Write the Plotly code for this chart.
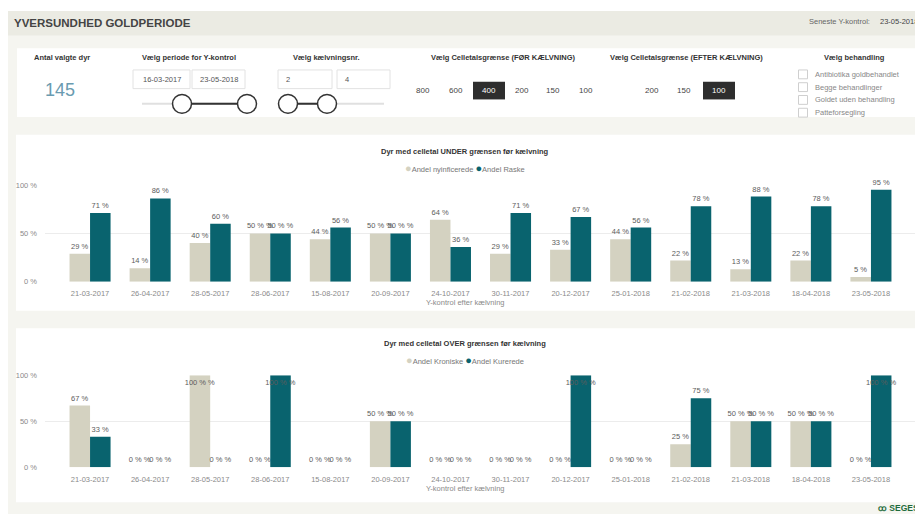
import plotly.graph_objects as go

# ---------------- data ----------------
categories = ["21-03-2017", "26-04-2017", "28-05-2017", "28-06-2017", "15-08-2017",
              "20-09-2017", "24-10-2017", "30-11-2017", "20-12-2017", "25-01-2018",
              "21-02-2018", "21-03-2018", "18-04-2018", "23-05-2018"]

under_nyinficerede = [29, 14, 40, 50, 44, 50, 64, 29, 33, 44, 22, 13, 22, 5]
under_raske = [71, 86, 60, 50, 56, 50, 36, 71, 67, 56, 78, 88, 78, 95]

over_kroniske = [67, 0, 100, 0, 0, 50, 0, 0, 0, 0, 25, 50, 50, 0]
over_kurerede = [33, 0, 0, 100, 0, 50, 0, 0, 100, 0, 75, 50, 50, 100]

y_ticks = [0, 50, 100]

period_dates = ["16-03-2017", "23-05-2018"]
kaelvning_nr = ["2", "4"]
foer_options = ["800", "600", "400", "200", "150", "100"]
efter_options = ["200", "150", "100"]
behandlinger = ["Antibiotika goldbehandlet", "Begge behandlinger",
                "Goldet uden behandling", "Patteforsegling"]

# ---------------- styling ----------------
PAGE_W, PAGE_H = 923, 519
OFF = 8                      # default page body margin
W, H = PAGE_W - OFF, PAGE_H - OFF
FONT = "Liberation Sans, Arial, sans-serif"
BEIGE = "#d4d2c1"
TEAL = "#09636e"
LABEL = "#5c5c5c"
TICK = "#8a8a8a"
HEADER_BG = "#ebebe3"
BAND_BG = "#f5f5f0"


def X(p):
    return (p - OFF) / W


def Y(p):
    return 1 - (p - OFF) / H


def positions(vals):
    return ["inside" if v >= 100 else "outside" for v in vals]


def bar(vals, color, xa, ya, name):
    return go.Bar(
        x=categories, y=vals, name=name, marker_color=color,
        marker_line_width=0,
        texttemplate="%{y} %", textposition=positions(vals),
        insidetextanchor="end", textangle=0, constraintext="none",
        textfont=dict(family=FONT, size=7.5, color=LABEL),
        insidetextfont=dict(family=FONT, size=7.5, color=LABEL),
        outsidetextfont=dict(family=FONT, size=7.5, color=LABEL),
        cliponaxis=False, xaxis=xa, yaxis=ya, showlegend=False, hoverinfo="skip",
    )


fig = go.Figure()
fig.add_trace(bar(under_nyinficerede, BEIGE, "x", "y", "Andel nyinficerede"))
fig.add_trace(bar(under_raske, TEAL, "x", "y", "Andel Raske"))
fig.add_trace(bar(over_kroniske, BEIGE, "x2", "y2", "Andel Kroniske"))
fig.add_trace(bar(over_kurerede, TEAL, "x2", "y2", "Andel Kurerede"))

xdom = [X(45), X(916)]
xrange = [-0.75, len(categories) - 0.25]
common_x = dict(type="category", range=xrange, showgrid=False, zeroline=False,
                showline=False, ticks="", tickangle=0, ticklabelstandoff=6,
                tickfont=dict(family=FONT, size=7.5, color=TICK))
common_y = dict(range=[0, 100], tickvals=y_ticks, ticktext=[f"{v} %" for v in y_ticks],
                showgrid=True, gridcolor="#ececec", gridwidth=1, zeroline=False,
                showline=False, ticks="", ticklabelstandoff=7,
                tickfont=dict(family=FONT, size=7.5, color=TICK))

shapes = []
annotations = []


def rect(x0, y0, x1, y1, fill, line=None, lw=0):
    shapes.append(dict(type="rect", xref="paper", yref="paper", layer="below",
                       x0=X(x0), x1=X(x1), y0=Y(y1), y1=Y(y0), fillcolor=fill,
                       line=dict(color=line or fill, width=lw)))


def text(x, y, s, size=8, color="#333", xanchor="center", bold=False):
    annotations.append(dict(xref="paper", yref="paper", x=X(x), y=Y(y),
                            text=f"<b>{s}</b>" if bold else s, showarrow=False,
                            xanchor=xanchor, yanchor="middle",
                            font=dict(family=FONT, size=size, color=color)))


# background areas
rect(7, 7, PAGE_W, PAGE_H, BAND_BG)
rect(7, 7, PAGE_W, 32, HEADER_BG)
rect(17, 45, PAGE_W, 115, "white")
rect(16, 133, PAGE_W, 312, "white")
rect(16, 330, PAGE_W, 507, "white")

# header
text(12, 19, "YVERSUNDHED GOLDPERIODE", size=11.5, color="#444", xanchor="left", bold=True)
text(807, 18, "Seneste Y-kontrol:", size=7.5, color="#666", xanchor="left")
text(920, 18, "23-05-2018", size=7.5, color="#444", xanchor="right")

# control panel
text(62, 54, "Antal valgte dyr", size=7.5, color="#333", bold=True)
text(60, 87, "145", size=18, color="#6a9bb0")

text(189, 54, "Vælg periode for Y-kontrol", size=7.5, color="#333", bold=True)
for (x0, x1), s in zip([(133, 190), (192, 245)], period_dates):
    rect(x0, 67, x1, 86, "white", "#e2e2e2", 1)
    text((x0 + x1) / 2, 76.5, s, size=7.5, color="#555")

text(326, 54, "Vælg kælvningsnr.", size=7.5, color="#333", bold=True)
for (x0, x1), s in zip([(278, 332), (337, 390)], kaelvning_nr):
    rect(x0, 67, x1, 86, "white", "#e2e2e2", 1)
    text(x0 + 6, 76.5, s, size=7.5, color="#555", xanchor="left")


def line(x0, y0, x1, y1, color, width):
    shapes.append(dict(type="line", xref="paper", yref="paper",
                       x0=X(x0), x1=X(x1), y0=Y(y0), y1=Y(y1),
                       line=dict(color=color, width=width)))


def circle(cx, cy, r):
    shapes.append(dict(type="circle", xref="paper", yref="paper",
                       x0=X(cx - r), x1=X(cx + r), y0=Y(cy + r), y1=Y(cy - r),
                       fillcolor="white", line=dict(color="#333", width=1.5)))


# date slider
line(142, 101.5, 253, 101.5, "#e0e0e0", 2)
line(182, 101.5, 247, 101.5, "#333", 2)
circle(182, 101.5, 9.5)
circle(247, 101.5, 9.5)
# kælvning slider
line(288, 101.5, 384, 101.5, "#e0e0e0", 2)
line(288, 101.5, 327, 101.5, "#333", 2)
circle(288, 101.5, 9.5)
circle(327, 101.5, 9.5)

text(503, 54, "Vælg Celletalsgrænse (FØR KÆLVNING)", size=7.5, color="#333", bold=True)
foer_x = [423, 456, 489, 522, 553, 586]
for xc, s in zip(foer_x, foer_options):
    if s == "400":
        rect(xc - 16, 79, xc + 16, 97, "#2e2e2e")
        text(xc, 88, s, size=8, color="white")
    else:
        text(xc, 88, s, size=8, color="#444")

text(686, 54, "Vælg Celletalsgrænse (EFTER KÆLVNING)", size=7.5, color="#333", bold=True)
efter_x = [652, 684, 719]
for xc, s in zip(efter_x, efter_options):
    if s == "100":
        rect(xc - 16, 79, xc + 16, 97, "#2e2e2e")
        text(xc, 88, s, size=8, color="white")
    else:
        text(xc, 88, s, size=8, color="#444")

text(854, 54, "Vælg behandling", size=7.5, color="#333", bold=True)
for yc, s in zip([71.5, 84.5, 97.5, 110.5], behandlinger):
    rect(798.5, yc - 4.5, 807.5, yc + 4.5, "white", "#cfcfcf", 1)
    text(813, yc, s, size=7.5, color="#888", xanchor="left")

# chart titles, legends, axis titles
DOT = '<span style="color:{};font-size:11px">●</span>'
text(465, 150, "Dyr med celletal UNDER grænsen før kælvning", size=7.5, color="#333", bold=True)
text(465, 167, f'{DOT.format(BEIGE)}Andel nyinficerede {DOT.format(TEAL)}Andel Raske',
     size=7.5, color="#777")
text(465, 304, "Y-kontrol efter kælvning", size=7.5, color=TICK)

text(465, 345, "Dyr med celletal OVER grænsen før kælvning", size=7.5, color="#333", bold=True)
text(465, 362, f'{DOT.format(BEIGE)}Andel Kroniske {DOT.format(TEAL)}Andel Kurerede',
     size=7.5, color="#777")
text(465, 493, "Y-kontrol efter kælvning", size=7.5, color=TICK)

# logo
text(921, 513, 'ꝏ SEGES', size=8.5, color="#1e6b3c", xanchor="right", bold=True)

fig.update_layout(
    width=W, height=H, margin=dict(l=0, r=0, t=0, b=0, pad=0),
    paper_bgcolor="white", plot_bgcolor="rgba(0,0,0,0)",
    barmode="group", bargap=0.317, bargroupgap=0,
    showlegend=False,
    xaxis=dict(domain=xdom, anchor="y", **common_x),
    yaxis=dict(domain=[Y(282.7), Y(184)], anchor="x", **common_y),
    xaxis2=dict(domain=xdom, anchor="y2", **common_x),
    yaxis2=dict(domain=[Y(471.3), Y(377.7)], anchor="x2", **common_y),
    shapes=shapes, annotations=annotations,
    font=dict(family=FONT),
)

fig.write_html("out.html")
